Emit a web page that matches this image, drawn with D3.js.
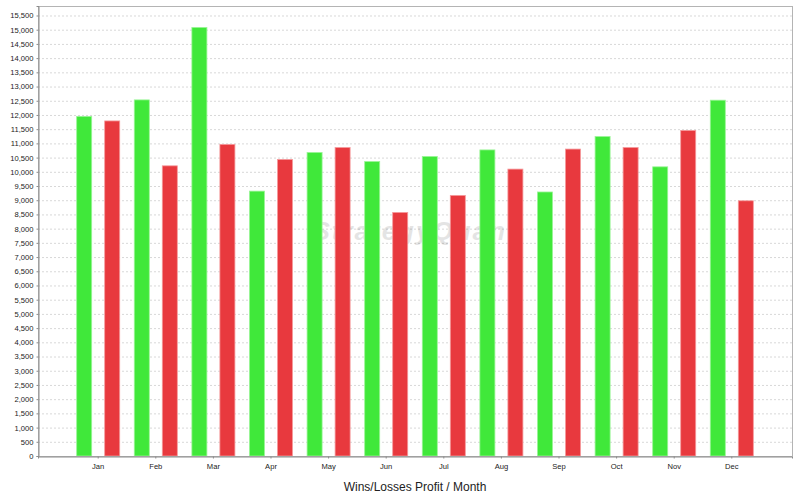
<!DOCTYPE html>
<html><head><meta charset="utf-8">
<script src="https://cdn.jsdelivr.net/npm/d3@7"></script>
<style>body{margin:0;background:#fff}svg{display:block}</style>
</head><body>
<script>
const months = ["Jan","Feb","Mar","Apr","May","Jun","Jul","Aug","Sep","Oct","Nov","Dec"];
const wins   = [11950,12530,15080,9320,10680,10360,10540,10770,9290,11240,10175,12520];
const losses = [11790,10210,10965,10435,10855,8570,9170,10095,10800,10855,11455,8980];
const yTicks = d3.range(0, 15501, 500);
const seriesNames = ["Wins","Losses"];
const seriesColors = ["#40e83a","#e8393e"];
const seriesStroke = ["#9af596","#f59a9c"];

const W = 800, H = 500;
const m = {left:38, right:8, top:6, bottom:44};
const pw = W - m.left - m.right, ph = H - m.top - m.bottom;

const svg = d3.select("body").append("svg").attr("width",W).attr("height",H);
const g = svg.append("g").attr("transform",`translate(${m.left},${m.top})`);

const yMax = d3.max(wins.concat(losses)) * 1.05;
const y = d3.scaleLinear().domain([0, yMax]).range([ph, 0]);
const x = d3.scaleBand().domain(months).range([0, pw]).paddingInner(0).paddingOuter(0.545);
const xs = d3.scaleBand().domain(seriesNames).range([0, x.step()]).paddingInner(0.464).paddingOuter(0.26);

// gridlines
g.append("g").selectAll("line").data(yTicks.filter(d=>d>0)).join("line")
  .attr("x1",0).attr("x2",pw).attr("y1",d=>y(d)+0.5).attr("y2",d=>y(d)+0.5)
  .attr("stroke","#d8d8d8").attr("stroke-dasharray","2,2").attr("stroke-width",1);

// watermark
g.append("text").attr("x",pw/2).attr("y",y(7600)).attr("text-anchor","middle")
  .attr("font-family","Liberation Sans, Arial, sans-serif").attr("font-style","italic").attr("font-weight","bold")
  .attr("font-size",26).attr("fill","#000").attr("opacity",0.1).attr("letter-spacing",2)
  .text("StrategyQuant");

// bars
const grp = g.append("g").selectAll("g").data(months).join("g")
  .attr("transform",d=>`translate(${x(d)},0)`);
grp.selectAll("rect").data((d,i)=>[{s:0,v:wins[i]},{s:1,v:losses[i]}]).join("rect")
  .attr("x",d=>xs(seriesNames[d.s])).attr("width",xs.bandwidth())
  .attr("y",d=>y(d.v)).attr("height",d=>ph-y(d.v))
  .attr("fill",d=>seriesColors[d.s]).attr("stroke",d=>seriesStroke[d.s]).attr("stroke-width",0.8);

// border
g.append("rect").attr("x",0.5).attr("y",0.5).attr("width",pw).attr("height",ph)
  .attr("fill","none").attr("stroke","#b4b4b4");

// axes
const font = "Liberation Sans, Arial, sans-serif";
const ya = g.append("g").attr("transform","translate(0.5,0)")
  .call(d3.axisLeft(y).tickValues(yTicks).tickSize(2).tickPadding(3).tickFormat(d3.format(",")));
ya.select(".domain").attr("stroke","#8c8c8c");
ya.selectAll(".tick line").attr("stroke","#8c8c8c");
ya.selectAll("text").attr("font-family",font).attr("font-size",7.6).attr("fill","#222");

const xa = g.append("g").attr("transform",`translate(0,${ph+0.5})`)
  .call(d3.axisBottom(x).tickSize(2).tickPadding(5));
xa.select(".domain").attr("stroke","#8c8c8c");
xa.selectAll(".tick line").attr("stroke","#8c8c8c");
xa.selectAll("text").attr("font-family",font).attr("font-size",7.6).attr("fill","#222");

svg.append("text").attr("x",m.left+pw/2).attr("y",491).attr("text-anchor","middle")
  .attr("font-family",font).attr("font-size",12).attr("fill","#222")
  .text("Wins/Losses Profit / Month");
</script>
</body></html>
